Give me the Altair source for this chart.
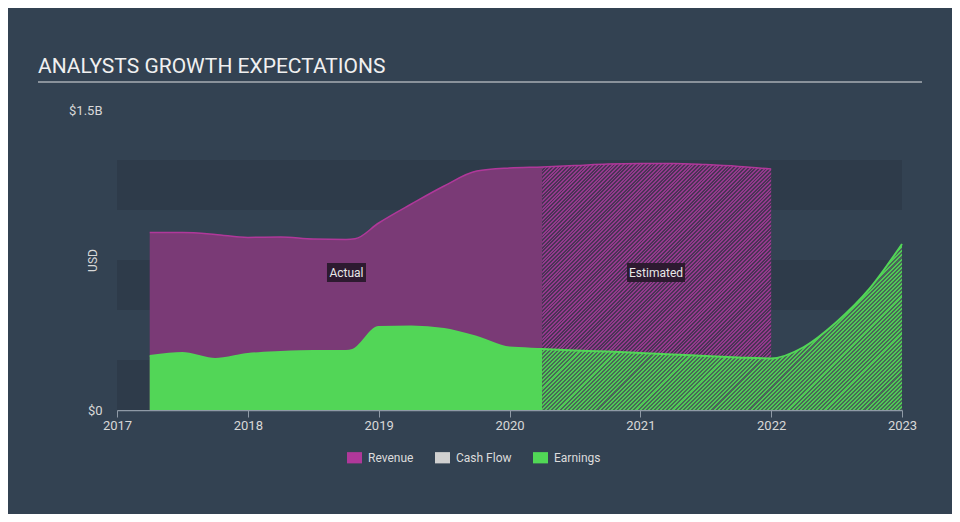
import altair as alt
import pandas as pd

# ---------------- data (values in billions USD) ----------------
rev_act_year = [2017.25, 2017.5, 2017.75, 2018.0, 2018.25, 2018.5, 2018.75, 2018.82,
                2019.0, 2019.25, 2019.5, 2019.75, 2020.0, 2020.25]
rev_act_val = [0.887, 0.887, 0.878, 0.863, 0.865, 0.855, 0.853, 0.856,
               0.935, 1.03, 1.12, 1.195, 1.21, 1.215]

rev_est_year = [2020.25, 2020.5, 2020.75, 2021.0, 2021.25, 2021.5, 2021.75, 2022.0]
rev_est_val = [1.215, 1.222, 1.23, 1.233, 1.233, 1.227, 1.218, 1.205]

earn_act_year = [2017.25, 2017.5, 2017.75, 2018.0, 2018.25, 2018.5, 2018.75, 2018.8,
                 2019.0, 2019.25, 2019.5, 2019.75, 2020.0, 2020.25]
earn_act_val = [0.27, 0.285, 0.255, 0.28, 0.29, 0.295, 0.295, 0.30,
                0.415, 0.418, 0.405, 0.365, 0.312, 0.305]

earn_est_year = [2020.25, 2020.5, 2020.75, 2021.0, 2021.25, 2021.5, 2021.75, 2022.0,
                 2022.25, 2022.5, 2022.75, 2023.0]
earn_est_val = [0.305, 0.298, 0.292, 0.285, 0.278, 0.27, 0.263, 0.258,
                0.315, 0.44, 0.605, 0.83]

band_lo = [0.0, 0.5, 1.0]
band_hi = [0.25, 0.75, 1.25]

legend_names = ["Revenue", "Cash Flow", "Earnings"]
legend_colors = ["#b0389a", "#d0d0d0", "#51d856"]

ann_label = ["Actual", "Estimated"]
ann_year = [2018.754, 2021.12]
ann_val = [0.6875, 0.6875]

x_ticks = [2017, 2018, 2019, 2020, 2021, 2022, 2023]
y_ticks = [0, 1.5]

# ---------------- sizes / styles ----------------
W, H = 785, 300
X0, X1 = 2017, 2023
Y1 = 1.5
BG = "#334252"
BAND = "#2e3b4a"
FONT = "Roboto"


def df(years, vals):
    return pd.DataFrame({"year": years, "value": vals})


rev_act = df(rev_act_year, rev_act_val)
rev_est = df(rev_est_year, rev_est_val)
earn_act = df(earn_act_year, earn_act_val)
earn_est = df(earn_est_year, earn_est_val)
rev_all = pd.concat([rev_act, rev_est.iloc[1:]])
earn_all = pd.concat([earn_act, earn_est.iloc[1:]])


def hatch(years, vals, stripe, gap, n=128):
    # diagonal "/" stripes built from a linear gradient over the mark's bounding box
    bw = (max(years) - min(years)) / (X1 - X0) * W
    bh = max(vals) / Y1 * H
    b = bh / bw
    k = (1 + b) / (1 + b * b)
    stops = []
    for i in range(n):
        a = i / n
        m = (i + 0.5) / n
        e = (i + 1) / n
        stops += [alt.GradientStop(color=stripe, offset=a),
                  alt.GradientStop(color=stripe, offset=m),
                  alt.GradientStop(color=gap, offset=m),
                  alt.GradientStop(color=gap, offset=e)]
    return alt.LinearGradient(gradient="linear", stops=stops,
                              x1=0, y1=0, x2=k, y2=k * b)


xs = alt.Scale(domain=[X0, X1], nice=False, zero=False)
ys = alt.Scale(domain=[0, Y1], nice=False)

x_axis = alt.Axis(values=x_ticks, format="d", title=None, grid=False,
                  domainColor="#8f9aa6", tickColor="#8f9aa6", tickSize=7,
                  labelColor="#d8d8d8", labelFontSize=13, labelFont=FONT,
                  labelPadding=2, labelFlush=False, domainWidth=1.5)
y_axis = alt.Axis(values=y_ticks, grid=False, domain=False, ticks=False,
                  labelExpr="datum.value == 0 ? '$0' : '$1.5B'",
                  labelColor="#d8d8d8", labelFontSize=13, labelFont=FONT,
                  labelPadding=15, labelFlush=False,
                  title="USD", titleColor="#d8d8d8", titleFont=FONT,
                  titleFontSize=12, titleFontWeight="normal",
                  titleX=-25, titleY=H / 2, titleAlign="center",
                  titleBaseline="middle", titleAngle=-90)

X = lambda: alt.X("year:Q", scale=xs, axis=x_axis)
Y = lambda: alt.Y("value:Q", scale=ys, axis=y_axis)

bands = alt.Chart(pd.DataFrame({"lo": band_lo, "hi": band_hi})).mark_rect(
    color=BAND).encode(
    x=alt.value(0), x2=alt.value(W),
    y=alt.Y("lo:Q", scale=ys, axis=y_axis), y2="hi:Q")

rev_act_area = alt.Chart(rev_act).mark_area(
    color="#7a3a76", interpolate="monotone", opacity=1).encode(x=X(), y=Y())

rev_est_area = alt.Chart(rev_est).mark_area(
    color=hatch(rev_est_year, rev_est_val, "#93398c", "#4b3356"),
    interpolate="monotone", opacity=1).encode(x=X(), y=Y())

earn_act_area = alt.Chart(earn_act).mark_area(
    color="#52d657", interpolate="monotone", opacity=1).encode(x=X(), y=Y())

earn_est_area = alt.Chart(earn_est).mark_area(
    color=hatch(earn_est_year, earn_est_val, "#4fca55", "#4a6658"),
    interpolate="monotone", opacity=1).encode(x=X(), y=Y())

rev_line = alt.Chart(rev_all).mark_line(
    color="#b0389a", strokeWidth=1.5, interpolate="monotone").encode(x=X(), y=Y())
earn_line = alt.Chart(earn_all).mark_line(
    color="#52d657", strokeWidth=2, interpolate="monotone").encode(x=X(), y=Y())

ann = pd.DataFrame({"label": ann_label, "year": ann_year, "value": ann_val})
box_a = alt.Chart(ann).transform_filter("datum.label == 'Actual'").mark_rect(
    color="#2d1a30", width=39, height=19).encode(x=X(), y=Y())
box_e = alt.Chart(ann).transform_filter("datum.label == 'Estimated'").mark_rect(
    color="#2d1a30", width=58, height=19).encode(x=X(), y=Y())
ann_text = alt.Chart(ann).mark_text(
    color="#e8e8e8", fontSize=12, font=FONT, align="center",
    baseline="middle").encode(x=X(), y=Y(), text="label:N")

legend_layer = alt.Chart(pd.DataFrame({"series": legend_names})).mark_point(
    filled=True, opacity=0).encode(
    color=alt.Color("series:N",
                    scale=alt.Scale(domain=legend_names, range=legend_colors),
                    legend=alt.Legend(orient="none", legendX=230, legendY=340,
                                      direction="horizontal", title=None,
                                      symbolType="M-1,-0.75H1V0.75H-1Z",
                                      symbolSize=225, symbolOpacity=1,
                                      symbolStrokeWidth=0,
                                      labelColor="#dcdcdc", labelFontSize=12,
                                      labelFont=FONT, labelFontWeight="normal",
                                      columnPadding=21, labelOffset=6,
                                      padding=0)))

underline = alt.Chart(pd.DataFrame({"a": [0]})).mark_rule(
    color="#a9aeb5", strokeWidth=1.5).encode(
    x=alt.value(-79), x2=alt.value(805), y=alt.value(-28))

chart = alt.layer(
    bands, rev_act_area, rev_est_area, earn_act_area, earn_est_area,
    rev_line, earn_line, box_a, box_e, ann_text, legend_layer, underline
).properties(
    width=W, height=H,
    title=alt.Title("ANALYSTS GROWTH EXPECTATIONS", anchor="start", frame="group",
                    dx=-79, dy=20, offset=7, fontSize=21, font=FONT,
                    fontWeight="normal", color="#f0f0f0", baseline="alphabetic"),
    autosize=alt.AutoSizeParams(type="none"),
    padding={"left": 109, "top": 102, "right": 50, "bottom": 104},
).configure(background=BG).configure_view(stroke=None)

chart.save("out.html", embed_options={"renderer": "svg", "actions": False})
